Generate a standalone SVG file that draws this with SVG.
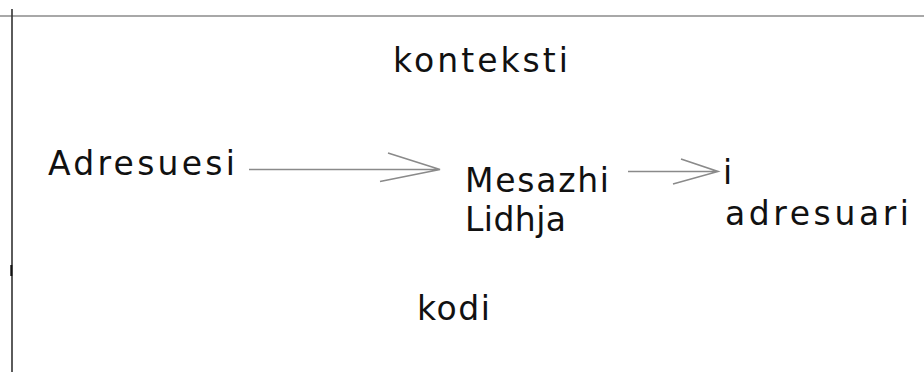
<svg xmlns="http://www.w3.org/2000/svg" width="924" height="372" viewBox="0 0 924 372">
<style>
.t{font-family:"DejaVu Sans","Liberation Sans",sans-serif;font-size:33px;fill:#111;}
.c{stroke:#8a8a8a;stroke-width:1.6;fill:none;}
</style>
<rect width="924" height="372" fill="#fff"/>
<g id="frame">
<line x1="0" y1="16" x2="924" y2="16" stroke="#a8a8a8" stroke-width="2.2"/>
<line x1="12" y1="9" x2="12" y2="372" stroke="#333" stroke-width="1.6"/>
<line x1="11.3" y1="265" x2="11.3" y2="276" stroke="#111" stroke-width="2"/>
</g>
<g id="kontekst"><text class="t" x="393" y="72" textLength="175" lengthAdjust="spacing">konteksti</text></g>
<g id="adresuesi"><text class="t" x="48" y="175" textLength="187" lengthAdjust="spacing">Adresuesi</text></g>
<g id="mesazhi">
<text class="t" x="465" y="192" textLength="144" lengthAdjust="spacing">Mesazhi</text>
<text class="t" x="465" y="231" textLength="101" lengthAdjust="spacing">Lidhja</text>
</g>
<g id="adresuari">
<text class="t" x="723" y="184">i</text>
<text class="t" x="725" y="225" textLength="184" lengthAdjust="spacing">adresuari</text>
</g>
<g id="kodi"><text class="t" x="417" y="320" textLength="73" lengthAdjust="spacing">kodi</text></g>
<g id="connectors">
<path class="c" d="M249 169.5H440M388 153L440 169.5L380 181.5"/>
<path class="c" d="M628 171.5H718M681 159L718 171.5L673 184"/>
</g>
</svg>
